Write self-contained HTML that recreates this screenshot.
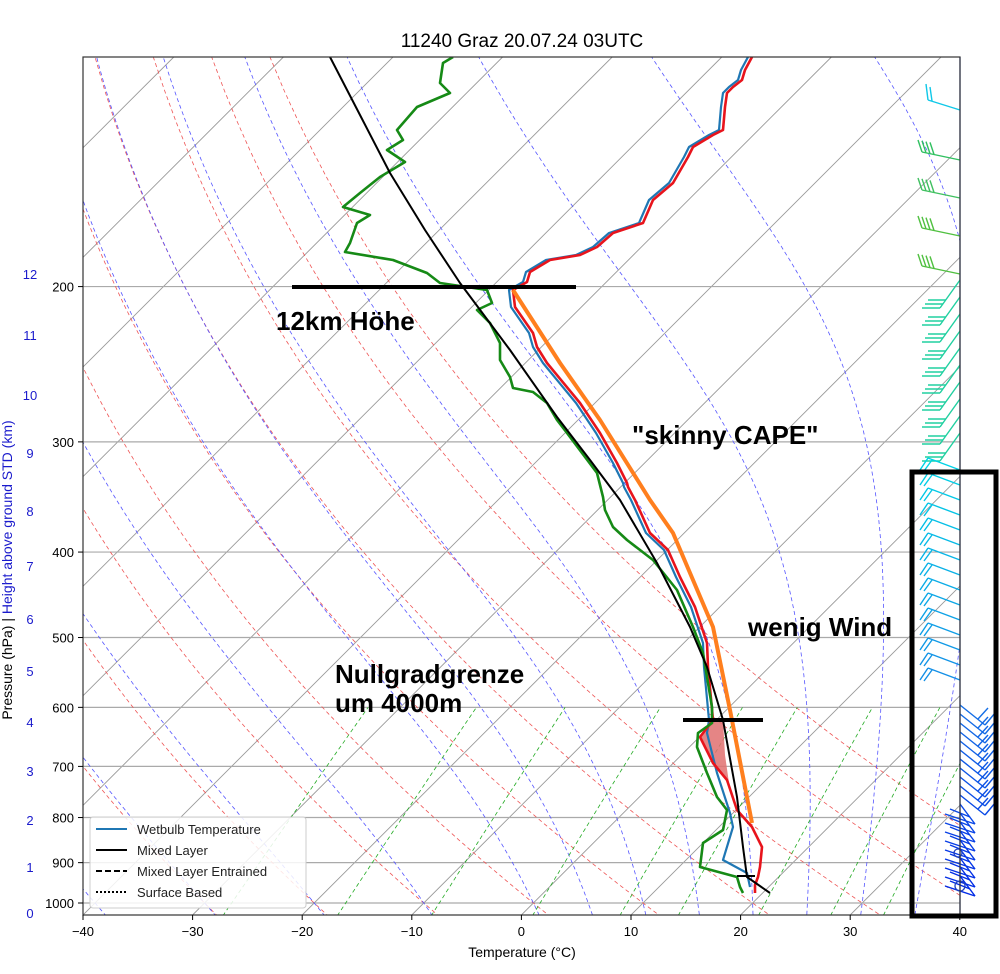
<!DOCTYPE html>
<html><head><meta charset="utf-8"><style>
body{margin:0;background:#fff;}
svg{display:block;font-family:"Liberation Sans","DejaVu Sans",sans-serif;}
</style></head><body>
<svg id="s" width="1000" height="974" viewBox="0 0 1000 974" xmlns="http://www.w3.org/2000/svg">
<defs><clipPath id="c"><rect x="83" y="57" width="877" height="858"/></clipPath></defs>
<rect width="1000" height="974" fill="#fff"/>
<g id="bg" clip-path="url(#c)"></g>
<g clip-path="url(#c)" fill="none" stroke-linejoin="round">
<polygon points="713,720 700,737 713,763 727,780 737,810 730,790 725,755 723,720" fill="#e07070" stroke="none" opacity="0.85"/>
<polyline stroke="#1f77b4" stroke-width="2.2" points="748,57 741,70 738,80 729,87 723,93 721,107 719,130 709,135 689,147 684,157 669,183 649,200 639,223 609,233 593,247 576,255 546,260 526,272 523,282 509,290 511,307 529,333 533,347 543,363 576,403 596,433 613,463 623,483 624,487 631,500 646,533 664,550 676,577 691,607 703,643 704,667 709,720 707,733 717,773 730,813 733,827 723,860 747,873 750,887"/>
<polyline stroke="#e8141c" stroke-width="2.6" points="752,57 745,70 742,80 733,87 727,93 725,107 723,130 713,135 693,147 688,157 673,183 653,200 643,223 613,233 597,247 580,255 550,260 530,272 527,282 513,290 515,307 533,333 537,347 547,363 580,403 600,433 617,463 627,483 628,487 635,500 650,533 668,550 680,577 695,607 707,643 708,667 713,720 700,737 713,763 727,780 737,810 752,827 762,847 760,867 758,877 755,885 755,893"/>
<polyline stroke="#168a16" stroke-width="2.6" points="453,57 443,63 440,83 450,93 417,107 397,130 403,140 387,150 405,162 380,177 360,193 343,207 370,215 357,223 350,243 345,252 393,260 427,273 440,283 487,290 492,303 477,310 490,323 500,343 500,360 510,377 513,388 533,392 547,403 557,420 567,433 597,473 603,497 605,510 613,527 627,540 653,560 677,590 693,627 703,653 712,707 712,723 698,733 697,747 707,773 717,797 727,810 723,830 703,843 700,867 737,877 740,887 743,893"/>
<polyline stroke="#000" stroke-width="2" points="330,57 360,115 390,173 425,230 460,283 510,350 557,417 590,460 620,500 657,563 690,627 707,667 723,720 737,797 743,847 747,877 770,893"/>
<line x1="737" y1="876" x2="755" y2="876" stroke="#000" stroke-width="2"/>
<polyline stroke="#ff7f1e" stroke-width="4" points="513,290 560,363 600,420 650,500 673,533 713,627 730,710 752,823"/>
</g>
<line x1="292" y1="287" x2="576" y2="287" stroke="#000" stroke-width="4"/>
<line x1="683" y1="720" x2="763" y2="720" stroke="#000" stroke-width="4"/>
<g id="wb"></g>
<rect x="83" y="57" width="877" height="858" fill="none" stroke="#333" stroke-width="1.2"/>
<text x="522" y="47" font-size="19" text-anchor="middle">11240 Graz 20.07.24 03UTC</text>
<g id="ax" font-size="13"></g>
<text x="522" y="957" font-size="14" text-anchor="middle">Temperature (°C)</text>
<text transform="translate(12,570) rotate(-90)" font-size="14" text-anchor="middle"><tspan fill="#000">Pressure (hPa)</tspan><tspan fill="#000">  |  </tspan><tspan fill="#1a1acc">Height above ground STD (km)</tspan></text>
<g font-size="26" font-weight="bold" fill="#000">
<text x="276" y="330">12km Höhe</text>
<text x="632" y="444">"skinny CAPE"</text>
<text x="748" y="636">wenig Wind</text>
<text x="335" y="683">Nullgradgrenze</text>
<text x="335" y="712">um 4000m</text>
</g>
<g>
<rect x="90" y="817" width="216" height="91" fill="#fff" fill-opacity="0.85" stroke="#ccc" rx="3"/>
<line x1="96" y1="829" x2="127" y2="829" stroke="#1f77b4" stroke-width="2"/>
<line x1="96" y1="850" x2="127" y2="850" stroke="#000" stroke-width="2"/>
<line x1="96" y1="871" x2="127" y2="871" stroke="#000" stroke-width="2" stroke-dasharray="6,3"/>
<line x1="96" y1="892" x2="127" y2="892" stroke="#000" stroke-width="2" stroke-dasharray="2,2"/>
<g font-size="13" fill="#222"><text x="137" y="834">Wetbulb Temperature</text><text x="137" y="855">Mixed Layer</text><text x="137" y="876">Mixed Layer Entrained</text><text x="137" y="897">Surface Based</text></g>
</g>
<rect x="912" y="472" width="84" height="444" fill="none" stroke="#000" stroke-width="5"/>
</svg>
<script>
(function(){
var NS="http://www.w3.org/2000/svg";
function Y(p){return 903+383*Math.log(p/1000);}
function X(T,p){return 83+(T+40)*10.96+(915-Y(p));}
function add(parent,tag,attrs,txt){var e=document.createElementNS(NS,tag);for(var k in attrs)e.setAttribute(k,attrs[k]);if(txt!==undefined)e.textContent=txt;parent.appendChild(e);return e;}
var bg=document.getElementById('bg');
function pl(pts,st,w,da){var a={fill:'none',stroke:st,'stroke-width':w,points:pts.map(function(a){return a[0].toFixed(1)+','+a[1].toFixed(1)}).join(' ')};if(da)a['stroke-dasharray']=da;add(bg,'polyline',a);}
for(var T=-120;T<=50;T+=10){var xb=83+(T+40)*10.96;add(bg,'line',{x1:xb,y1:915,x2:xb+858,y2:57,stroke:'#999','stroke-width':0.9});}
[1000,900,800,700,600,500,400,300,200].forEach(function(p){add(bg,'line',{x1:83,x2:960,y1:Y(p),y2:Y(p),stroke:'#aaa','stroke-width':1.2});});
var ps=[];for(var p=1050;p>=100;p-=10)ps.push(p);
for(var t0=-30;t0<=50;t0+=10){(function(th){pl(ps.map(function(p){return [X(th*Math.pow(p/1000,0.2857)-273.15,p),Y(p)]}),'#e55','0.8','4,3');})(t0+273.15);}
function es(Tc){return 6.112*Math.exp(17.67*Tc/(Tc+243.5));}
[-40,-30,-20,-10,0,5,10,15,20,25,30,35].forEach(function(t0){
 function run(dir){var T=t0+273.15,p=1000,out=[[X(t0,p),Y(p)]];var dp=dir*2;
  while((dir<0&&p>100)||(dir>0&&p<1050)){var Tc=T-273.15,e=es(Tc),rs=0.622*e/(p-e);
   var dTdp=(287*T+2.5e6*rs)/(1005+2.5e6*2.5e6*rs*0.622/(287*T*T))/p;T+=dTdp*dp;p+=dp;out.push([X(T-273.15,p),Y(p)]);}
  return out;}
 var up=run(-1),dn=run(1);pl(dn.reverse().concat(up),'#55f','0.8','4,3');});
[0.0004,0.001,0.002,0.004,0.007,0.01,0.016,0.024,0.032].forEach(function(w){var pts=[];for(var p=1050;p>=600;p-=10){var e=p*w/(0.622+w),l=Math.log(e/6.112);var Td=243.5*l/(17.67-l);pts.push([X(Td,p),Y(p)]);}pl(pts,'#2a2','0.8','4,3');});
var ax=document.getElementById('ax');
for(var T=-40;T<=40;T+=10){var x=83+(T+40)*10.96;add(ax,'line',{x1:x,x2:x,y1:915,y2:920,stroke:'#000'});add(ax,'text',{x:x,y:936,'text-anchor':'middle'},T<0?'\u2212'+(-T):String(T));}
[1000,900,800,700,600,500,400,300,200].forEach(function(p){var y=Y(p);add(ax,'line',{x1:78,x2:83,y1:y,y2:y,stroke:'#000'});add(ax,'text',{x:74,y:y+5,'text-anchor':'end'},String(p));});
[913,867,820,771,722,671,619,566,511,453,395,335,274].forEach(function(y,i){add(ax,'text',{x:30,y:y+5,fill:'#1a1acc','text-anchor':'middle'},String(i));});
var g=document.getElementById('wb');
add(g,'line',{x1:960,y1:57,x2:960,y2:915,stroke:'#1f40c0','stroke-width':1.2});
function L(x1,y1,x2,y2,c){add(g,'line',{x1:x1,y1:y1,x2:x2,y2:y2,stroke:c,'stroke-width':1.4});}
// top cyan barb
L(960,110,928,100,'#10c8e8');L(928,100,926,84,'#10c8e8');L(932,101,930,87,'#10c8e8');
// green upper barbs
[[160,'#30c060'],[198,'#40c060'],[236,'#50c040'],[274,'#50c040']].forEach(function(b){var y=b[0],c=b[1];L(960,y,922,y-8,c);for(var k=0;k<4;k++){L(922+k*4,y-8+k*0.8,918+k*4,y-20+k*0.8,c);}});
// teal barbs (staff diagonal up-left, flags horizontal)
for(var y=300;y<=455;y+=17){var c='#20d0a0';var ex=940,ey=y+8;L(960,y-20,ex,ey,c);for(var k=0;k<3;k++)L(ex+k*3,ey-k*4,ex+k*3-18,ey-k*4,c);}
// cyan chevrons
for(var y=470;y<=690;y+=15){var f=(y-470)/220;var c='rgb('+Math.round(0+20*f)+','+Math.round(210-70*f)+','+Math.round(230)+')';L(960,y,928,y-12,c);L(928,y-12,920,y,c);L(932,y-10,924,y+1,c);}
// blue lower barbs to the right
for(var y=705;y<=880;y+=9){var f=(y-705)/175;var c='rgb('+Math.round(20-20*f)+','+Math.round(110-70*f)+',230)';
 if(y<800){L(960,y,985,y+20,c);L(985,y+20,995,y+8,c);L(978,y+14,988,y+3,c);}else{L(960,y,975,y+20,c);L(975,y+20,945,y+10,c);L(970,y+13,950,y+5,c);}}
add(g,'circle',{cx:960,cy:886,r:5,fill:'none',stroke:'#1f40c0','stroke-width':1.3});
add(g,'circle',{cx:958,cy:853,r:4,fill:'none',stroke:'#1f40c0','stroke-width':1.3});
})();
</script>
</body></html>
